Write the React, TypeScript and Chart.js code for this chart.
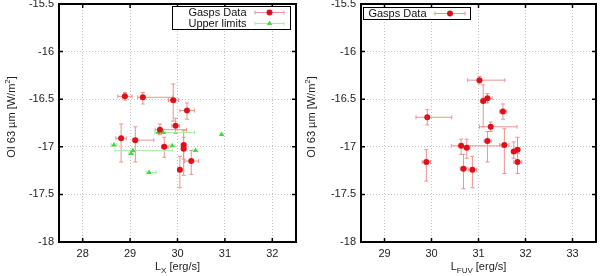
import React, { useEffect, useRef } from 'react';
import { Chart, registerables } from 'chart.js';

Chart.register(...registerables);

const FONT = '"Liberation Sans", Arial, Helvetica, sans-serif';

// ---------- shared axis ----------
const yTicks = [-18, -17.5, -17, -16.5, -16, -15.5];
const yMin = -18;
const yMax = -15.5;

// ---------- left panel: L_X ----------
const lxTicks = [28, 29, 30, 31, 32];
const lxMin = 27.5;
const lxMax = 32.5;

const lxGaspsX = [28.89, 29.27, 29.91, 30.2, 29.96, 29.63, 28.81, 29.11, 29.72, 30.13, 30.13, 30.05, 30.29];
const lxGaspsY = [-16.47, -16.48, -16.51, -16.62, -16.78, -16.82, -16.91, -16.93, -17.0, -16.98, -17.02, -17.24, -17.15];
const lxGaspsXLo = [28.74, 29.16, 29.81, 30.05, 29.88, 29.53, 28.7, 29.05, 29.66, 30.08, 30.08, 30.0, 30.15];
const lxGaspsXHi = [29.04, 29.9, 30.02, 30.36, 30.04, 30.19, 28.92, 29.5, 29.8, 30.18, 30.18, 30.1, 30.44];
const lxGaspsYLo = [-16.51, -16.55, -16.73, -16.71, -16.86, -16.87, -17.16, -17.16, -17.11, -17.13, -17.3, -17.43, -17.29];
const lxGaspsYHi = [-16.43, -16.43, -16.34, -16.54, -16.7, -16.76, -16.76, -16.79, -16.9, -16.83, -16.9, -17.1, -17.04];

const lxUpperX = [28.66, 29.06, 29.02, 29.4, 29.59, 29.7, 29.89, 30.38, 30.93];
const lxUpperY = [-16.98, -17.04, -17.07, -17.27, -16.85, -16.85, -16.99, -17.04, -16.87];
const lxUpperXLo = [28.6, 28.68, 28.97, 29.34, 29.52, 29.65, 29.84, 30.33, 30.9];
const lxUpperXHi = [28.72, 29.9, 29.07, 29.55, 30.36, 29.75, 29.95, 30.43, 30.96];

// ---------- right panel: L_FUV ----------
const lfTicks = [29, 30, 31, 32, 33];
const lfMin = 28.5;
const lfMax = 33.5;

const lfGaspsX = [31.02, 31.19, 31.1, 31.52, 29.91, 31.26, 31.19, 30.63, 30.75, 31.55, 31.75, 31.83, 31.83, 29.89, 30.68, 30.87];
const lfGaspsY = [-16.3, -16.49, -16.52, -16.63, -16.69, -16.79, -16.94, -16.99, -17.01, -16.98, -17.05, -17.03, -17.16, -17.16, -17.23, -17.24];
const lfGaspsXLo = [30.77, 31.1, 31.05, 31.45, 29.67, 31.02, 31.12, 30.42, 30.69, 31.45, 31.7, 31.78, 31.75, 29.8, 30.61, 30.78];
const lfGaspsXHi = [31.56, 31.29, 31.15, 31.6, 30.43, 31.82, 31.27, 31.5, 30.82, 31.65, 31.8, 31.88, 31.92, 29.98, 30.75, 30.96];
const lfGaspsYLo = [-16.34, -16.54, -16.79, -16.71, -16.77, -16.84, -17.16, -17.08, -17.12, -17.28, -17.12, -17.15, -17.28, -17.36, -17.44, -17.43];
const lfGaspsYHi = [-16.26, -16.44, -16.35, -16.55, -16.61, -16.74, -16.84, -16.92, -16.92, -16.81, -16.95, -16.9, -17.07, -17.03, -17.08, -17.1];

// ---------- styling ----------
const RED = '#e0101a';
const RED_ERR = '#f09090';
const GREEN = '#3ddc3d';
const GREEN_ERR = '#a8eea8';

type Pt = { x: number; y: number; xLo: number; xHi: number; yLo: number; yHi: number };

function buildPoints(xs: number[], ys: number[], xLo: number[], xHi: number[], yLo?: number[], yHi?: number[]): Pt[] {
  return xs.map((x, i) => ({
    x,
    y: ys[i],
    xLo: xLo[i],
    xHi: xHi[i],
    yLo: yLo ? yLo[i] : ys[i],
    yHi: yHi ? yHi[i] : ys[i],
  }));
}

const errorBarPlugin = {
  id: 'errorBars',
  beforeDatasetsDraw(chart: any) {
    const { ctx, chartArea } = chart;
    const xs = chart.scales.x;
    const ys = chart.scales.y;
    ctx.save();
    ctx.beginPath();
    ctx.rect(chartArea.left, chartArea.top, chartArea.right - chartArea.left, chartArea.bottom - chartArea.top);
    ctx.clip();
    chart.data.datasets.forEach((ds: any) => {
      ctx.strokeStyle = ds.errorColor;
      ctx.lineWidth = 1;
      const cap = 2;
      ds.data.forEach((p: Pt) => {
        const px = xs.getPixelForValue(p.x);
        const py = ys.getPixelForValue(p.y);
        ctx.beginPath();
        if (p.xHi !== p.xLo) {
          const a = xs.getPixelForValue(p.xLo);
          const b = xs.getPixelForValue(p.xHi);
          ctx.moveTo(a, py);
          ctx.lineTo(b, py);
          ctx.moveTo(a, py - cap);
          ctx.lineTo(a, py + cap);
          ctx.moveTo(b, py - cap);
          ctx.lineTo(b, py + cap);
        }
        if (p.yHi !== p.yLo) {
          const a = ys.getPixelForValue(p.yLo);
          const b = ys.getPixelForValue(p.yHi);
          ctx.moveTo(px, a);
          ctx.lineTo(px, b);
          ctx.moveTo(px - cap, a);
          ctx.lineTo(px + cap, a);
          ctx.moveTo(px - cap, b);
          ctx.lineTo(px + cap, b);
        }
        ctx.stroke();
      });
    });
    ctx.restore();
  },
};

type LegendEntry = { label: string; y: number; color: string; errColor: string; style: 'circle' | 'triangle' };
type LegendCfg = { box: [number, number, number, number]; textRight: number; sampleL: number; sampleR: number; entries: LegendEntry[] };

function drawMarker(ctx: CanvasRenderingContext2D, style: string, x: number, y: number, color: string) {
  ctx.fillStyle = color;
  ctx.beginPath();
  if (style === 'circle') {
    ctx.arc(x, y, 3, 0, Math.PI * 2);
  } else {
    const r = 3;
    ctx.moveTo(x, y - r);
    ctx.lineTo(x + r * 0.87, y + r * 0.5);
    ctx.lineTo(x - r * 0.87, y + r * 0.5);
    ctx.closePath();
  }
  ctx.fill();
}

const decorPlugin = {
  id: 'decor',
  afterDraw(chart: any, _args: any, opts: any) {
    const { ctx, chartArea } = chart;
    const xs = chart.scales.x;
    const ys = chart.scales.y;
    const { left, right, top, bottom } = chartArea;
    ctx.save();
    // frame
    ctx.strokeStyle = '#000';
    ctx.lineWidth = 2;
    ctx.strokeRect(left, top, right - left, bottom - top);
    // inward ticks on all four sides
    ctx.lineWidth = 1.5;
    const tl = 4;
    ctx.beginPath();
    xs.ticks.forEach((t: any) => {
      const px = xs.getPixelForValue(t.value);
      ctx.moveTo(px, bottom);
      ctx.lineTo(px, bottom - tl);
      ctx.moveTo(px, top);
      ctx.lineTo(px, top + tl);
    });
    ys.ticks.forEach((t: any) => {
      const py = ys.getPixelForValue(t.value);
      ctx.moveTo(left, py);
      ctx.lineTo(left + tl, py);
      ctx.moveTo(right, py);
      ctx.lineTo(right - tl, py);
    });
    ctx.stroke();

    // x title with subscript
    ctx.fillStyle = '#222';
    ctx.textBaseline = 'alphabetic';
    ctx.textAlign = 'left';
    const mainFont = `11px ${FONT}`;
    const subFont = `8px ${FONT}`;
    ctx.font = mainFont;
    const wMain = ctx.measureText(opts.xMain).width;
    const wRest = ctx.measureText(opts.xRest).width;
    ctx.font = subFont;
    const wSub = ctx.measureText(opts.xSub).width;
    const total = wMain + wSub + wRest;
    let sx = (left + right) / 2 - total / 2;
    const base = 270;
    ctx.font = mainFont;
    ctx.fillText(opts.xMain, sx, base);
    sx += wMain;
    ctx.font = subFont;
    ctx.fillText(opts.xSub, sx, base + 3);
    sx += wSub;
    ctx.font = mainFont;
    ctx.fillText(opts.xRest, sx, base);

    // y title with superscript (rotated)
    ctx.save();
    ctx.translate(15, 117);
    ctx.rotate(-Math.PI / 2);
    ctx.font = mainFont;
    const yA = 'OI 63 µm [W/m';
    const yB = '2';
    const yC = ']';
    const wA = ctx.measureText(yA).width;
    const wC = ctx.measureText(yC).width;
    ctx.font = subFont;
    const wB = ctx.measureText(yB).width;
    let yx = -(wA + wB + wC) / 2;
    ctx.font = mainFont;
    ctx.fillText(yA, yx, 0);
    yx += wA;
    ctx.font = subFont;
    ctx.fillText(yB, yx, -5);
    yx += wB;
    ctx.font = mainFont;
    ctx.fillText(yC, yx, 0);
    ctx.restore();

    // legend
    const lg: LegendCfg = opts.legend;
    ctx.fillStyle = '#fff';
    const [bl, bt, br, bb] = lg.box;
    ctx.fillRect(bl, bt, br - bl, bb - bt);
    ctx.strokeStyle = '#000';
    ctx.lineWidth = 1;
    ctx.strokeRect(bl, bt, br - bl, bb - bt);
    lg.entries.forEach((e) => {
      ctx.fillStyle = '#111';
      ctx.font = mainFont;
      ctx.textAlign = 'right';
      ctx.textBaseline = 'middle';
      ctx.fillText(e.label, lg.textRight, e.y);
      ctx.strokeStyle = e.errColor;
      ctx.lineWidth = 1;
      ctx.beginPath();
      ctx.moveTo(lg.sampleL, e.y);
      ctx.lineTo(lg.sampleR, e.y);
      ctx.moveTo(lg.sampleL, e.y - 2);
      ctx.lineTo(lg.sampleL, e.y + 2);
      ctx.moveTo(lg.sampleR, e.y - 2);
      ctx.lineTo(lg.sampleR, e.y + 2);
      ctx.stroke();
      drawMarker(ctx, e.style, (lg.sampleL + lg.sampleR) / 2, e.y, e.color);
    });
    ctx.restore();
  },
};

type PanelProps = {
  yAxisWidth: number;
  padRight: number;
  xMin: number;
  xMax: number;
  xTicks: number[];
  datasets: any[];
  xMain: string;
  xSub: string;
  xRest: string;
  legend: LegendCfg;
};

function Panel(props: PanelProps) {
  const ref = useRef<HTMLCanvasElement | null>(null);
  useEffect(() => {
    if (!ref.current) return;
    const tickFont = { family: FONT, size: 11 };
    const chart = new Chart(ref.current, {
      type: 'scatter',
      data: { datasets: props.datasets },
      options: {
        animation: false,
        responsive: false,
        devicePixelRatio: 1,
        events: [],
        layout: { padding: { top: 4, right: props.padRight, left: 0, bottom: 0 } },
        plugins: {
          legend: { display: false },
          tooltip: { enabled: false },
          decor: { xMain: props.xMain, xSub: props.xSub, xRest: props.xRest, legend: props.legend },
        } as any,
        scales: {
          x: {
            type: 'linear',
            min: props.xMin,
            max: props.xMax,
            afterBuildTicks: (s: any) => {
              s.ticks = props.xTicks.map((v) => ({ value: v }));
            },
            afterFit: (s: any) => {
              s.height = 34;
              s.paddingLeft = 0;
              s.paddingRight = 0;
            },
            grid: { color: '#c4c4c4', drawTicks: false, lineWidth: 1 },
            border: { display: false, dash: [1, 2] },
            ticks: { padding: 5, color: '#222', font: tickFont, autoSkip: false, maxRotation: 0, callback: (v: any) => String(v) },
          },
          y: {
            type: 'linear',
            min: yMin,
            max: yMax,
            afterBuildTicks: (s: any) => {
              s.ticks = yTicks.map((v) => ({ value: v }));
            },
            afterFit: (s: any) => {
              s.width = props.yAxisWidth;
              s.paddingTop = 0;
              s.paddingBottom = 0;
            },
            grid: { color: '#c4c4c4', drawTicks: false, lineWidth: 1 },
            border: { display: false, dash: [1, 2] },
            ticks: { padding: 5, color: '#222', font: tickFont, autoSkip: false, callback: (v: any) => String(v) },
          },
        },
      } as any,
      plugins: [errorBarPlugin, decorPlugin],
    });
    return () => chart.destroy();
  }, []);
  return <canvas ref={ref} width={300} height={276} style={{ display: 'block', width: 300, height: 276 }} />;
}

export default function App() {
  const leftDatasets = [
    {
      label: 'Gasps Data',
      data: buildPoints(lxGaspsX, lxGaspsY, lxGaspsXLo, lxGaspsXHi, lxGaspsYLo, lxGaspsYHi),
      pointStyle: 'circle',
      pointRadius: 3,
      pointBackgroundColor: RED,
      pointBorderWidth: 0,
      showLine: false,
      errorColor: RED_ERR,
      clip: false,
    },
    {
      label: 'Upper limits',
      data: buildPoints(lxUpperX, lxUpperY, lxUpperXLo, lxUpperXHi),
      pointStyle: 'triangle',
      pointRadius: 3,
      pointBackgroundColor: GREEN,
      pointBorderWidth: 0,
      showLine: false,
      errorColor: GREEN_ERR,
      clip: false,
    },
  ];
  const rightDatasets = [
    {
      label: 'Gasps Data',
      data: buildPoints(lfGaspsX, lfGaspsY, lfGaspsXLo, lfGaspsXHi, lfGaspsYLo, lfGaspsYHi),
      pointStyle: 'circle',
      pointRadius: 3,
      pointBackgroundColor: RED,
      pointBorderWidth: 0,
      showLine: false,
      errorColor: RED_ERR,
      clip: false,
    },
  ];
  return (
    <div style={{ position: 'absolute', left: 0, top: 0, width: 600, height: 276, display: 'flex', background: '#fff' }}>
      <Panel
        yAxisWidth={59}
        padRight={3}
        xMin={lxMin}
        xMax={lxMax}
        xTicks={lxTicks}
        datasets={leftDatasets}
        xMain="L"
        xSub="X"
        xRest=" [erg/s]"
        legend={{
          box: [172.5, 6.5, 290.5, 29.5],
          textRight: 246.5,
          sampleL: 255,
          sampleR: 284,
          entries: [
            { label: 'Gasps Data', y: 12.5, color: RED, errColor: RED_ERR, style: 'circle' },
            { label: 'Upper limits', y: 23.5, color: GREEN, errColor: GREEN_ERR, style: 'triangle' },
          ],
        }}
      />
      <Panel
        yAxisWidth={61}
        padRight={2}
        xMin={lfMin}
        xMax={lfMax}
        xTicks={lfTicks}
        datasets={rightDatasets}
        xMain="L"
        xSub="FUV"
        xRest=" [erg/s]"
        legend={{
          box: [63.5, 7.5, 170.5, 19.5],
          textRight: 126.5,
          sampleL: 135,
          sampleR: 165,
          entries: [{ label: 'Gasps Data', y: 13.5, color: RED, errColor: RED_ERR, style: 'circle' }],
        }}
      />
    </div>
  );
}
